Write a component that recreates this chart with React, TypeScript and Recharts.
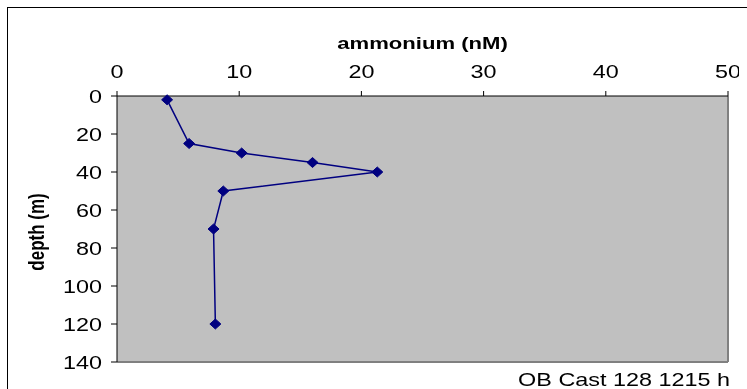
import React from 'react';
import { ScatterChart, Scatter, XAxis, YAxis, CartesianGrid, ReferenceLine } from 'recharts';

const ammonium = [4.1, 5.9, 10.2, 16.0, 21.3, 8.7, 7.9, 8.05];
const depth = [2, 25, 30, 35, 40, 50, 70, 120];
const xTicks = [0, 10, 20, 30, 40, 50];
const yTicks = [0, 20, 40, 60, 80, 100, 120, 140];

const FONT = '"Liberation Sans", Arial, sans-serif';
const STRETCH = 1.3;

const data = ammonium.map((v, i) => ({ nh4: v, depth: depth[i] }));

const XTick = ({ x, payload }: any) => (
  <text
    transform={`translate(${x},70) scale(${STRETCH},1)`}
    textAnchor="middle"
    fontFamily={FONT}
    fontSize={18}
    fill="#000"
  >
    {payload.value}
  </text>
);

const YTick = ({ y, payload }: any) => (
  <text
    transform={`translate(94,${y + 7}) scale(${STRETCH},1)`}
    textAnchor="end"
    fontFamily={FONT}
    fontSize={18}
    fill="#000"
  >
    {payload.value}
  </text>
);

const Diamond = ({ cx, cy }: any) => (
  <polygon
    points={`${cx},${cy - 5} ${cx + 5.5},${cy} ${cx},${cy + 5} ${cx - 5.5},${cy}`}
    fill="#000080"
    stroke="#000080"
  />
);

export default function App() {
  return (
    <div style={{ width: 739, height: 381, background: '#fff' }}>
      {/* chart frame, only its top and left edges fall inside the picture */}
      <div
        style={{
          position: 'fixed',
          left: 7,
          top: 7,
          width: 739,
          height: 381,
          borderTop: '1px solid #000',
          borderLeft: '1px solid #000',
          pointerEvents: 'none',
        }}
      />
      <ScatterChart width={739} height={381} margin={{ top: 0, right: 19, bottom: 27, left: 0 }}>
        <CartesianGrid fill="#C0C0C0" fillOpacity={1} horizontal={false} vertical={false} stroke="none" />
        <ReferenceLine x={50} stroke="#808080" strokeWidth={2} />
        <ReferenceLine
          y={140}
          stroke="#808080"
          strokeWidth={2}
          label={{
            content: () => (
              <text
                transform={`translate(722,378) scale(${STRETCH},1)`}
                textAnchor="end"
                fontFamily={FONT}
                fontSize={18}
                fill="#000"
              >
                OB Cast 128 1215 h
              </text>
            ),
          }}
        />
        <XAxis
          type="number"
          dataKey="nh4"
          orientation="top"
          domain={[0, 50]}
          ticks={xTicks}
          height={88}
          interval={0}
          tickSize={5}
          axisLine={{ stroke: '#000' }}
          tickLine={{ stroke: '#000' }}
          tick={<XTick />}
          label={{
            content: () => (
              <text
                transform={`translate(414.5,41) scale(${STRETCH},1)`}
                textAnchor="middle"
                fontFamily={FONT}
                fontSize={17}
                fontWeight="bold"
                fill="#000"
              >
                ammonium (nM)
              </text>
            ),
          }}
        />
        <YAxis
          type="number"
          dataKey="depth"
          reversed
          domain={[0, 140]}
          ticks={yTicks}
          width={109}
          interval={0}
          tickSize={6}
          axisLine={{ stroke: '#000' }}
          tickLine={{ stroke: '#000' }}
          tick={<YTick />}
          label={{
            content: () => (
              <text
                transform={`translate(36,224) rotate(-90) scale(1,${STRETCH})`}
                textAnchor="middle"
                fontFamily={FONT}
                fontSize={17}
                fontWeight="bold"
                fill="#000"
              >
                depth (m)
              </text>
            ),
          }}
        />
        <Scatter
          data={data}
          fill="#000080"
          line={{ stroke: '#000080', strokeWidth: 1.5 }}
          lineType="joint"
          shape={<Diamond />}
          isAnimationActive={false}
        />
      </ScatterChart>
    </div>
  );
}
